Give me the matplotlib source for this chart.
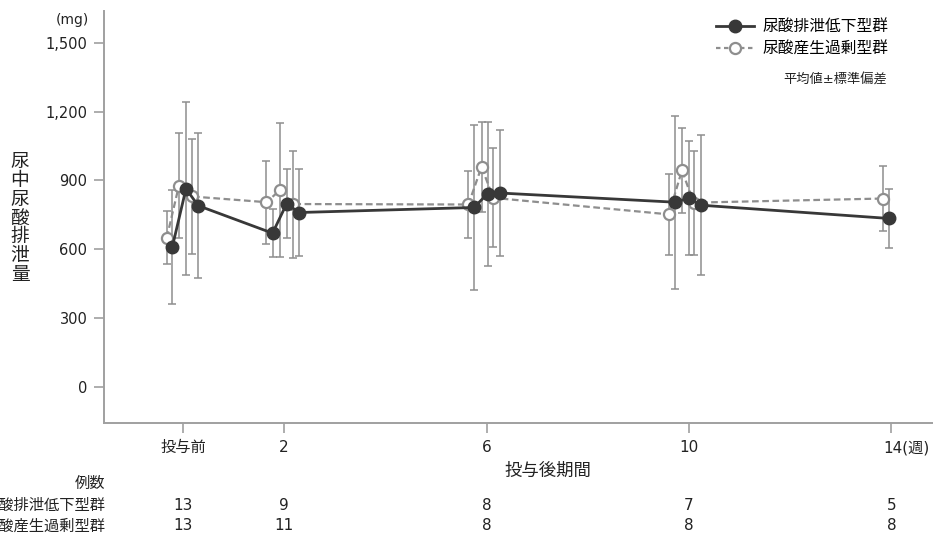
import numpy as np
import matplotlib
matplotlib.use("Agg")
import matplotlib.pyplot as plt
from matplotlib.lines import Line2D
import matplotlib.transforms as mtransforms

plt.rcParams['font.family'] = ['DejaVu Sans', 'Noto Sans CJK JP']

# ---- data (mg, mean and SD) ----
# 尿酸排泄低下型群
low_x = [-0.21, 0.06, 0.30, 1.77, 2.05, 2.29, 5.75, 6.02, 6.26, 9.72, 9.99, 10.23, 13.96]
low_mean = [610, 864, 790, 670, 799, 760, 782, 842, 845, 805, 822, 792, 734]
low_sd = [250, 378, 316, 105, 152, 190, 360, 313, 274, 377, 249, 305, 130]

# 尿酸産生過剰型群
high_x = [-0.32, -0.08, 0.17, 1.65, 1.92, 2.17, 5.64, 5.90, 6.13, 9.60, 9.86, 10.09, 13.84]
high_mean = [650, 877, 830, 805, 858, 797, 795, 959, 824, 752, 944, 803, 821]
high_sd = [115, 228, 252, 181, 293, 233, 147, 197, 215, 178, 184, 227, 140]

weeks = [0, 2, 6, 10, 14]
week_labels = ['投与前', '2', '6', '10', '']
n_low = [13, 9, 8, 7, 5]
n_high = [13, 11, 8, 8, 8]
yticks = [0, 300, 600, 900, 1200, 1500]

dark = '#383838'
gray = '#8e8e8e'
spine_gray = '#a0a0a0'
txt = '#222222'

fig = plt.figure(figsize=(9.33, 5.37), dpi=100)
ax = fig.add_axes([104 / 933, 1 - 423 / 537, 1 - 104 / 933, (423 - 11) / 537])

# error bars behind
ax.errorbar(high_x, high_mean, yerr=high_sd, fmt='none', ecolor=gray,
            elinewidth=1.1, capsize=3, capthick=1.1, zorder=1)
ax.errorbar(low_x, low_mean, yerr=low_sd, fmt='none', ecolor=gray,
            elinewidth=1.1, capsize=3, capthick=1.1, zorder=1)

ax.plot(high_x, high_mean, color=gray, lw=1.6, ls=(0, (3, 1.6)), marker='o',
        ms=8, mfc='white', mec=gray, mew=1.6, zorder=2)
ax.plot(low_x, low_mean, color=dark, lw=2, marker='o', ms=9, mfc=dark,
        mec=dark, zorder=3)

ax.set_xlim(-1.56, 14.82)
ax.set_ylim(-157, 1638)

for s in ['top', 'right']:
    ax.spines[s].set_visible(False)
for s in ['left', 'bottom']:
    ax.spines[s].set_color(spine_gray)
    ax.spines[s].set_linewidth(1.4)

ax.set_yticks(yticks)
ax.set_yticklabels([f'{v:,}' for v in yticks], fontsize=10.5, color=txt)
ax.set_xticks(weeks)
ax.set_xticklabels(week_labels, fontsize=11, color=txt)
ax.tick_params(axis='both', length=7, width=1.2, color=spine_gray, pad=5)

# last tick label with unit
offs = mtransforms.offset_copy(ax.get_xaxis_transform(), fig=fig, x=-8, y=-25, units='dots')
ax.text(weeks[-1], 0, '14(週)', transform=offs, ha='left', va='center',
        fontsize=11, color=txt)

# axis titles
fig.text(72 / 933, 1 - 20 / 537, '(mg)', ha='center', va='center', fontsize=10, color=txt)
fig.text(20 / 933, 1 - 218 / 537, '\n'.join('尿中尿酸排泄量'), ha='center', va='center',
         fontsize=13.5, linespacing=0.98, color=txt)
fig.text(548 / 933, 1 - 471 / 537, '投与後期間', ha='center', va='center',
         fontsize=12.5, color=txt)

# patient counts
fig.text(105 / 933, 1 - 483 / 537, '例数', ha='right', va='center', fontsize=11, color=txt)
fig.text(105 / 933, 1 - 505 / 537, '尿酸排泄低下型群', ha='right', va='center', fontsize=11, color=txt)
fig.text(105 / 933, 1 - 526 / 537, '尿酸産生過剰型群', ha='right', va='center', fontsize=11, color=txt)
tr = mtransforms.blended_transform_factory(ax.transData, fig.transFigure)
for w, a, b in zip(weeks, n_low, n_high):
    ax.text(w, 1 - 505 / 537, str(a), transform=tr, ha='center', va='center',
            fontsize=11, color=txt, clip_on=False)
    ax.text(w, 1 - 526 / 537, str(b), transform=tr, ha='center', va='center',
            fontsize=11, color=txt, clip_on=False)

# legend
handles = [
    Line2D([], [], color=dark, lw=2, marker='o', ms=9, mfc=dark, mec=dark),
    Line2D([], [], color=gray, lw=1.6, ls=(0, (2, 1.6)), marker='o', ms=8,
           mfc='white', mec=gray, mew=1.6),
]
fig.legend(handles, ['尿酸排泄低下型群', '尿酸産生過剰型群'], loc='upper left',
           bbox_to_anchor=(716 / 933, 1 - 19 / 537), bbox_transform=fig.transFigure,
           frameon=False, fontsize=11.3, handlelength=2.4, handletextpad=0.55,
           labelspacing=0.5, borderpad=0, borderaxespad=0)
fig.text(887 / 933, 1 - 80 / 537, '平均値±標準偏差', ha='right', va='center',
         fontsize=9.5, color=txt)

fig.savefig('out.png', dpi=100)
